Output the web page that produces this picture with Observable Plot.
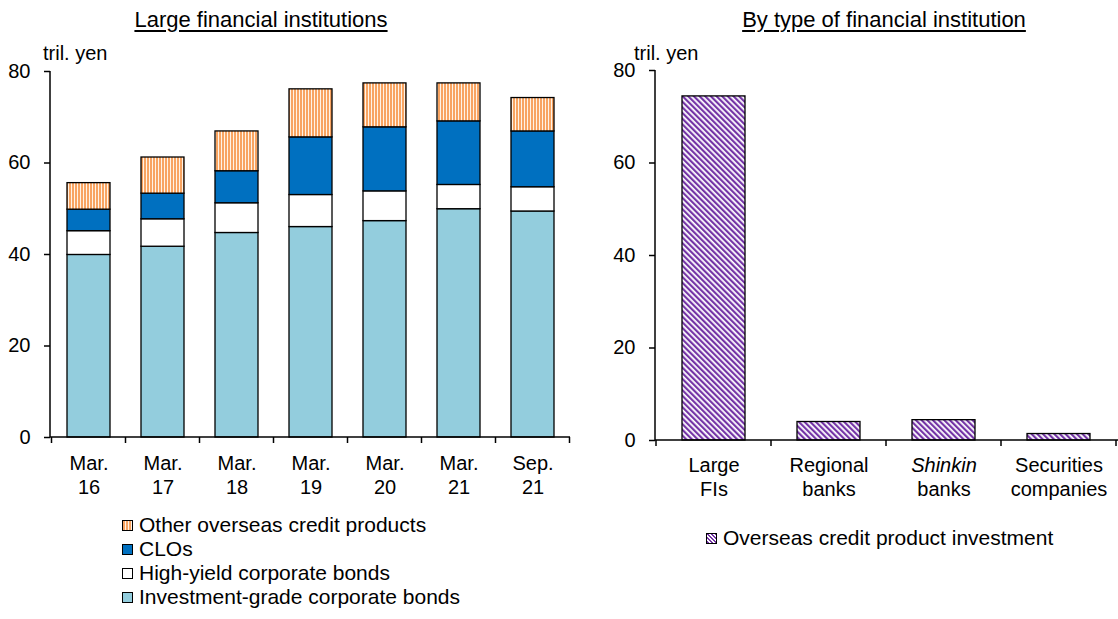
<!DOCTYPE html>
<html><head><meta charset="utf-8">
<script src="https://cdn.jsdelivr.net/npm/d3@7"></script>
<script src="https://cdn.jsdelivr.net/npm/@observablehq/plot@0.6"></script>
<style>
body{margin:0;background:#fff;font-family:"Liberation Sans",Arial,sans-serif;color:#000}
#root{position:relative;width:1118px;height:619px;overflow:hidden;background:#fff}
.abs{position:absolute;white-space:nowrap;line-height:1}
.title{font-size:22px;text-decoration:underline;text-underline-offset:3px;transform:translate(-50%,-50%)}
.unit{font-size:20px;transform:translateY(-50%)}
.leg{position:absolute;font-size:21px;display:flex;align-items:center;height:24px;white-space:nowrap;transform:translateY(-50%)}
.sw{width:9px;height:9px;border:1px solid #000;margin-right:6px;flex:none}
.plot{position:absolute}
</style></head>
<body><div id="root"></div>
<script>
// ---- data ----
const leftCategories = ["Mar. 16","Mar. 17","Mar. 18","Mar. 19","Mar. 20","Mar. 21","Sep. 21"];
const leftLine1 = ["Mar.","Mar.","Mar.","Mar.","Mar.","Mar.","Sep."];
const leftLine2 = ["16","17","18","19","20","21","21"];
const seriesNames = ["Investment-grade corporate bonds","High-yield corporate bonds","CLOs","Other overseas credit products"];
const investmentGrade = [39.9,41.7,44.7,46.0,47.3,49.9,49.4];
const highYield = [5.2,6.0,6.5,7.0,6.5,5.3,5.3];
const clos = [4.7,5.6,7.0,12.6,14.0,13.9,12.2];
const otherProducts = [5.8,7.9,8.7,10.5,9.6,8.3,7.3];
const legendOrder = ["Other overseas credit products","CLOs","High-yield corporate bonds","Investment-grade corporate bonds"];

const rightCategories = ["Large FIs","Regional banks","Shinkin banks","Securities companies"];
const rightLine1 = ["Large","Regional","Shinkin","Securities"];
const rightLine2 = ["FIs","banks","banks","companies"];
const overseasInvestment = [74.4,4.0,4.4,1.4];
const rightSeriesName = "Overseas credit product investment";

const yTicks = [0,20,40,60,80];
const leftTitle = "Large financial institutions";
const rightTitle = "By type of financial institution";
const unitLabel = "tril. yen";

// ---- helpers ----
const seriesValues = [investmentGrade, highYield, clos, otherProducts];
const leftTable = [];
seriesNames.forEach((s, k) => leftCategories.forEach((c, i) => leftTable.push({cat: c, series: s, value: seriesValues[k][i]})));
const rightTable = rightCategories.map((c, i) => ({cat: c, value: overseasInvestment[i], l1: rightLine1[i], l2: rightLine2[i]}));

const FONT = '"Liberation Sans", Arial, sans-serif';

function axesMark(yMax) {
  return function(index, scales, values, dims) {
    const {x, y} = scales;
    const g = d3.create("svg:g").attr("stroke", "#000").attr("stroke-width", 1.5).attr("fill", "none");
    const x0 = dims.marginLeft, x1 = dims.width - dims.marginRight;
    g.append("line").attr("x1", x0).attr("x2", x0).attr("y1", y(0)).attr("y2", y(yMax));
    g.append("line").attr("x1", x0).attr("x2", x1).attr("y1", y(0)).attr("y2", y(0));
    const dom = x.domain();
    const bw = x.bandwidth();
    const step = typeof x.step === "function" ? x.step() : (x1 - x0) / dom.length;
    const off = (step - bw) / 2;
    const bounds = dom.map(c => x(c) - off).concat([x(dom[dom.length - 1]) + bw + off]);
    for (const b of bounds) g.append("line").attr("x1", b).attr("x2", b).attr("y1", y(0)).attr("y2", y(0) + 6);
    return g.node();
  };
}

function addDefs(svg, prefix) {
  const defs = d3.select(svg).insert("defs", ":first-child");
  const o = defs.append("pattern").attr("id", prefix + "orange").attr("patternUnits", "userSpaceOnUse").attr("width", 3).attr("height", 3);
  o.append("rect").attr("width", 3).attr("height", 3).attr("fill", "#fff3e6");
  o.append("rect").attr("width", 2).attr("height", 3).attr("fill", "#f8a462");
  const p = defs.append("pattern").attr("id", prefix + "purple").attr("patternUnits", "userSpaceOnUse").attr("width", 4).attr("height", 4).attr("patternTransform", "rotate(-45)");
  p.append("rect").attr("width", 4).attr("height", 4).attr("fill", "#ffffff");
  p.append("rect").attr("width", 2.2).attr("height", 4).attr("fill", "#7434a6");
}

const root = document.getElementById("root");

// ---- left chart ----
const left = Plot.plot({
  width: 572, height: 442,
  marginTop: 11, marginBottom: 65, marginLeft: 50, marginRight: 2,
  style: {fontFamily: FONT, fontSize: "20px", color: "#000", background: "transparent", overflow: "visible"},
  x: {domain: leftCategories, padding: 0.425, paddingOuter: 0.2125, axis: null},
  y: {domain: [0, 80], label: null, axis: null},
  color: {type: "ordinal", domain: seriesNames, range: ["#93cddd", "#ffffff", "#0070c0", "url(#Lorange)"]},
  marks: [
    Plot.barY(leftTable, Plot.stackY({x: "cat", y: "value", fill: "series", stroke: "#000", strokeWidth: 1.3, order: null})),
    Plot.axisY({ticks: yTicks, tickSize: 6, tickPadding: 14, strokeWidth: 1.5, fontSize: 20, tickFormat: d => d}),
    axesMark(80),
    Plot.text(leftCategories, {x: d => d, text: (d, i) => leftLine1[i], frameAnchor: "bottom", dy: 32, fontSize: 20, fill: "#000"}),
    Plot.text(leftCategories, {x: d => d, text: (d, i) => leftLine2[i], frameAnchor: "bottom", dy: 56, fontSize: 20, fill: "#000"})
  ]
});
addDefs(left, "L");
left.classList.add("plot");
left.style.left = "0px"; left.style.top = "60px";
root.appendChild(left);

// ---- right chart ----
const right = Plot.plot({
  width: 558, height: 445,
  marginTop: 10, marginBottom: 65, marginLeft: 95, marginRight: 0,
  style: {fontFamily: FONT, fontSize: "20px", color: "#000", background: "transparent", overflow: "visible"},
  x: {domain: rightCategories, padding: 0.45, paddingOuter: 0.225, axis: null},
  y: {domain: [0, 80], label: null, axis: null},
  marks: [
    Plot.barY(rightTable, {x: "cat", y: "value", fill: "url(#Rpurple)", stroke: "#000", strokeWidth: 1.3}),
    Plot.axisY({ticks: yTicks, tickSize: 6, tickPadding: 14, strokeWidth: 1.5, fontSize: 20, tickFormat: d => d}),
    axesMark(80),
    Plot.text(rightTable, {x: "cat", text: "l1", filter: d => d.l1 !== "Shinkin", frameAnchor: "bottom", dy: 31, fontSize: 20, fill: "#000"}),
    Plot.text(rightTable, {x: "cat", text: "l1", filter: d => d.l1 === "Shinkin", frameAnchor: "bottom", dy: 31, fontSize: 20, fontStyle: "italic", fill: "#000"}),
    Plot.text(rightTable, {x: "cat", text: "l2", frameAnchor: "bottom", dy: 55, fontSize: 20, fill: "#000"})
  ]
});
addDefs(right, "R");
right.classList.add("plot");
right.style.left = "560px"; right.style.top = "60px";
root.appendChild(right);

// ---- titles, units ----
function addText(cls, text, x, y) {
  const d = document.createElement("div");
  d.className = "abs " + cls; d.textContent = text;
  d.style.left = x + "px"; d.style.top = y + "px";
  root.appendChild(d);
}
addText("title", leftTitle, 261, 20);
addText("title", rightTitle, 884, 20);
addText("unit", unitLabel, 43, 53);
addText("unit", unitLabel, 634, 53);

// ---- legends ----
const swatchCss = {
  "Other overseas credit products": "repeating-linear-gradient(90deg,#f8a462 0 2px,#fff3e6 2px 3px)",
  "CLOs": "#0070c0",
  "High-yield corporate bonds": "#ffffff",
  "Investment-grade corporate bonds": "#93cddd"
};
legendOrder.forEach((s, i) => {
  const d = document.createElement("div");
  d.className = "leg";
  d.style.left = "122px"; d.style.top = (525 + i * 24) + "px";
  const sw = document.createElement("span"); sw.className = "sw"; sw.style.background = swatchCss[s];
  const t = document.createElement("span"); t.textContent = s;
  d.appendChild(sw); d.appendChild(t); root.appendChild(d);
});
{
  const d = document.createElement("div");
  d.className = "leg";
  d.style.left = "706px"; d.style.top = "538px";
  const sw = document.createElement("span"); sw.className = "sw";
  sw.style.background = "repeating-linear-gradient(45deg,#7434a6 0 1.6px,#fff 1.6px 3px)";
  const t = document.createElement("span"); t.textContent = rightSeriesName;
  d.appendChild(sw); d.appendChild(t); root.appendChild(d);
}
</script>
</body></html>
